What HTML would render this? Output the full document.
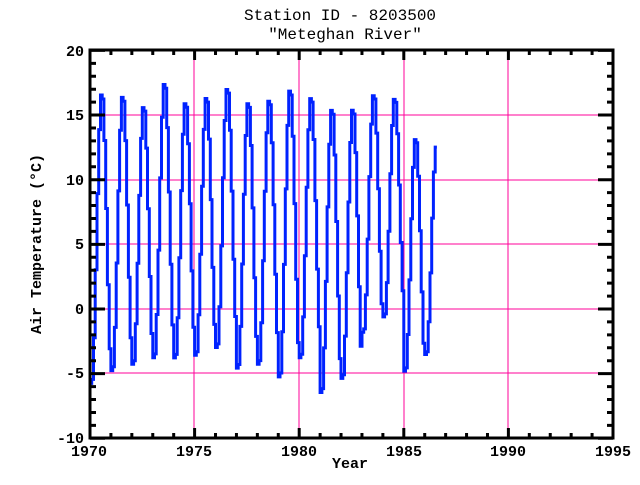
<!DOCTYPE html>
<html><head><style>
body{margin:0;background:#fff;}
text{font-family:"Liberation Mono",monospace;fill:#000;}
</style></head><body>
<svg id="s" width="640" height="480" xmlns="http://www.w3.org/2000/svg">
<rect width="640" height="480" fill="#fff"/>
<g stroke="#ff0099" stroke-width="1">
<line x1="194" y1="50" x2="194" y2="438"/><line x1="299" y1="50" x2="299" y2="438"/>
<line x1="404" y1="50" x2="404" y2="438"/><line x1="508" y1="50" x2="508" y2="438"/>
<line x1="90" y1="115" x2="613" y2="115"/><line x1="90" y1="180" x2="613" y2="180"/>
<line x1="90" y1="244" x2="613" y2="244"/><line x1="90" y1="309" x2="613" y2="309"/>
<line x1="90" y1="373" x2="613" y2="373"/>
</g>
<path id="d" fill="none" stroke="#0022ff" stroke-width="3"/>
<g id="ax" stroke="#000" stroke-width="3" fill="none">
<rect x="90" y="50" width="523" height="388"/>
</g>
<g font-size="16" text-anchor="middle">
<text x="340" y="20">Station ID - 8203500</text>
<text x="345" y="39">"Meteghan River"</text>
</g>
<g font-size="15" font-weight="bold" text-anchor="middle">
<text x="350" y="468">Year</text>
<text x="89" y="456">1970</text><text x="194" y="456">1975</text><text x="299" y="456">1980</text>
<text x="404" y="456">1985</text><text x="508" y="456">1990</text><text x="613" y="456">1995</text>
<text transform="translate(41,244) rotate(-90)">Air Temperature (°C)</text>
</g>
<g font-size="15" font-weight="bold" text-anchor="end">
<text x="84" y="56">20</text><text x="84" y="120">15</text><text x="84" y="185">10</text>
<text x="84" y="249">5</text><text x="84" y="314">0</text><text x="84" y="378">-5</text><text x="84" y="443">-10</text>
</g>
</svg>
<script>
var ax=document.getElementById('ax'),t='';
function X(y){return 90+(y-1970)*20.92;}function Y(v){return 309-v*12.93;}
for(var y=1970;y<=1995;y++){var L=(y%5==0)?10:5;var x=X(y);
t+='M'+x+' 438V'+(438-L)+'M'+x+' 50V'+(50+L);}
for(var v=-10;v<=20;v++){var L=(v%5==0)?15:6;var yy=Y(v);
t+='M90 '+yy+'H'+(90+L)+'M613 '+yy+'H'+(613-L);}
var p=document.createElementNS('http://www.w3.org/2000/svg','path');p.setAttribute('d',t);ax.appendChild(p);
var hi=[16.8,16.6,15.8,17.6,16.1,16.5,17.2,16.1,16.3,17.1,16.5,15.6,15.6,16.7,16.4,13.3,12.7];
var lo=[-6,-5,-4.5,-4,-4,-3.8,-3.2,-4.8,-4.5,-5.5,-4,-6.7,-5.6,-2,-0.8,-5,-3.7];
var d='';
for(var i=0;i<17;i++){var nm=(i==16)?7:12;
for(var m=0;m<nm;m++){var v=lo[i]+(hi[i]-lo[i])*(1-Math.cos(2*Math.PI*(m-0.4)/12))/2;
var x0=X(1970+i+m/12),x1=X(1970+i+(m+1)/12);
d+=(d?'L':'M')+x0.toFixed(1)+' '+Y(v).toFixed(1)+'H'+x1.toFixed(1);}}
document.getElementById('d').setAttribute('d',d);
</script>
</body></html>
